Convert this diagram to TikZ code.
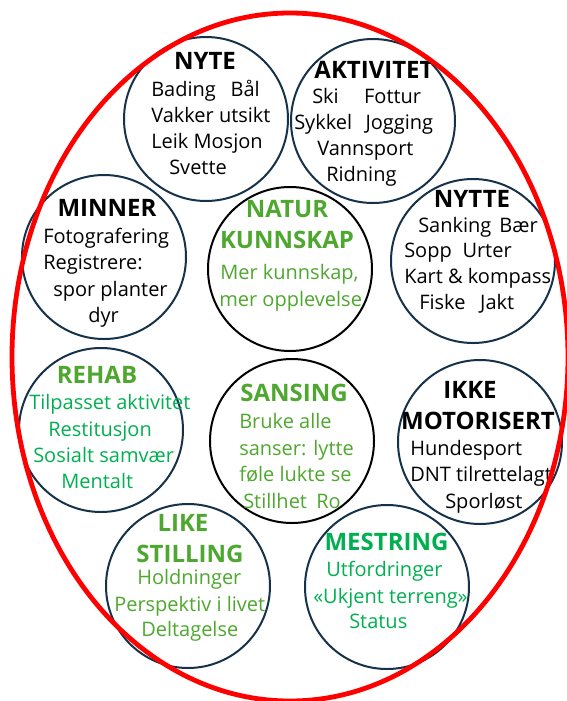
\documentclass[tikz,border=0pt]{standalone}
\usepackage{fontspec}
\setmainfont{Open Sans}
\definecolor{ringblue}{HTML}{16324A}
\definecolor{naturgreen}{HTML}{4EA72E}
\definecolor{friskgreen}{HTML}{00B050}
\definecolor{ringred}{HTML}{FF0000}
\begin{document}
\begin{tikzpicture}[x=0.75pt, y=-0.75pt,
    ring/.style={circle, draw=ringblue, line width=1.5pt, minimum size=123pt, inner sep=0pt},
    svartring/.style={ring, draw=black},
    overskrift/.style={font=\bfseries\fontsize{18}{23.25}\selectfont, align=center, inner sep=0pt},
    tekst/.style={font=\fontsize{15}{18}\selectfont, anchor=base west, inner sep=0pt}]
\useasboundingbox (0,0) rectangle (567,701);
% sirkler
\node[ring] (nyte) at (206,119) {};
\node[ring] (aktivitet) at (373,121) {};
\node[ring] (minner) at (104,257) {};
\node[svartring] (natur) at (290,269) {};
\node[ring] (nytte) at (473,261) {};
\node[ring] (rehab) at (101,430) {};
\node[svartring] (sansing) at (292,441) {};
\node[ring] (ikke) at (480,442) {};
\node[ring] (like) at (188,586) {};
\node[ring] (mestring) at (387,587) {};
% NYTE
\node[overskrift] (nyte-t) at (205,61) {NYTE};
\foreach \x/\y/\t [count=\i] in {151/96/{Bading\hspace{11pt}Bål}, 151/122/{Vakker utsikt}, 151/148/{Leik Mosjon}, 169/174/{Svette}}
  \node[tekst] (nyte-\i) at (\x,\y) {\t};
% AKTIVITET
\node[overskrift] (aktivitet-t) at (374,70) {AKTIVITET};
\foreach \x/\y/\t [count=\i] in {312/103/{Ski\hspace{19pt}Fottur}, 294/129/{Sykkel\hspace{10pt}Jogging}, 317/155/{Vannsport}, 326/181/{Ridning}}
  \node[tekst] (aktivitet-\i) at (\x,\y) {\t};
% NYTTE
\node[overskrift] (nytte-t) at (472,199) {NYTTE};
\foreach \x/\y/\t [count=\i] in {418/232/{Sanking\hspace{6pt}Bær}, 404/257/{Sopp\hspace{8pt}Urter}, 404/283/{Kart \& kompass}, 419/309/{Fiske\hspace{11pt}Jakt}}
  \node[tekst] (nytte-\i) at (\x,\y) {\t};
% MINNER
\node[overskrift] (minner-t) at (107,208) {MINNER};
\foreach \x/\y/\t [count=\i] in {43/243/{Fotografering}, 43/269/{Registrere:}, 53/296/{spor planter}, 88/322/{dyr}}
  \node[tekst] (minner-\i) at (\x,\y) {\t};
% NATUR KUNNSKAP
\node[overskrift, text=naturgreen] (natur-t) at (287,224.5) {NATUR\\KUNNSKAP};
\foreach \x/\y/\t [count=\i] in {220/279/{Mer kunnskap,}, 219/306/{mer opplevelse}}
  \node[tekst, text=naturgreen] (natur-\i) at (\x,\y) {\t};
% REHAB
\node[overskrift, text=naturgreen] (rehab-t) at (97,375) {REHAB};
\foreach \x/\y/\t [count=\i] in {29/409/{Tilpasset aktivitet}, 48/436/{Restitusjon}, 33/462/{Sosialt samvær}, 61/488/{Mentalt}}
  \node[tekst, text=friskgreen] (rehab-\i) at (\x,\y) {\t};
% SANSING
\node[overskrift, text=naturgreen] (sansing-t) at (294,393) {SANSING};
\foreach \x/\y/\t [count=\i] in {239/428/{Bruke alle}, 239/455/{sanser: lytte}, 239/481/{føle lukte se}, 243/508/{Stillhet\hspace{7pt}Ro}}
  \node[tekst, text=naturgreen] (sansing-\i) at (\x,\y) {\t};
% IKKE MOTORISERT
\node[overskrift] (ikke-t) at (478,405.5) {IKKE\hspace*{12pt}\\MOTORISERT};
\foreach \x/\y/\t [count=\i] in {410/455/{Hundesport}, 410/481/{DNT tilrettelagt}, 445/508/{Sporløst}}
  \node[tekst] (ikke-\i) at (\x,\y) {\t};
% LIKE STILLING
\node[overskrift, text=naturgreen] (like-t) at (190,538.5) {LIKE\hspace*{10.5pt}\\STILLING};
\foreach \x/\y/\t [count=\i] in {137/584/{Holdninger}, 114/611/{Perspektiv i livet}, 141/636/{Deltagelse}}
  \node[tekst, text=naturgreen] (like-\i) at (\x,\y) {\t};
% MESTRING
\node[overskrift, text=friskgreen] (mestring-t) at (386.5,542) {MESTRING};
\foreach \x/\y/\t [count=\i] in {326/576/{Utfordringer}, 313/603/{«Ukjent terreng»}, 349/628/{Status}}
  \node[tekst, text=friskgreen] (mestring-\i) at (\x,\y) {\t};
% ytre ellipse
\draw[ringred, line width=3.6pt] (290,357) ellipse [x radius=278, y radius=344];
\end{tikzpicture}
\end{document}
